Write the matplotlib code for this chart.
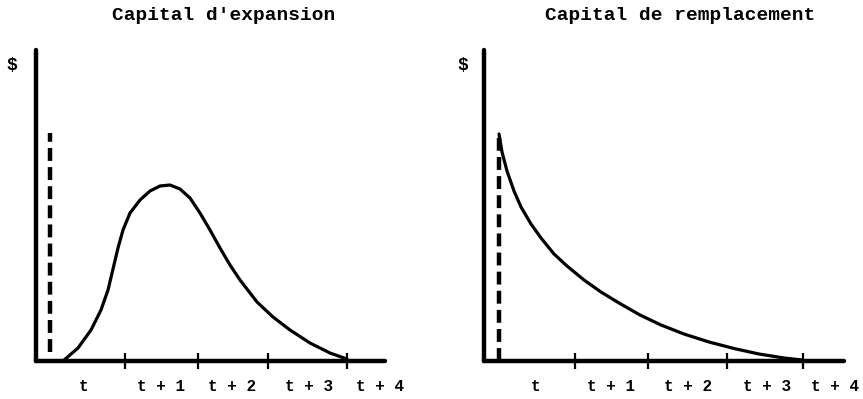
import numpy as np
import matplotlib.pyplot as plt

# Capital d'expansion (left panel): hump-shaped curve
exp_x = [0.27, 0.42, 0.55, 0.65, 0.72, 0.77, 0.82, 0.87, 0.94, 1.04, 1.14, 1.24,
         1.34, 1.44, 1.54, 1.64, 1.74, 1.84, 1.94, 2.04, 2.21, 2.37, 2.54, 2.74,
         2.94, 3.11]
exp_y = [0.00, 0.13, 0.31, 0.51, 0.71, 0.92, 1.13, 1.31, 1.48, 1.61, 1.70, 1.75,
         1.76, 1.72, 1.63, 1.48, 1.31, 1.13, 0.96, 0.81, 0.59, 0.44, 0.31, 0.18,
         0.08, 0.02]
exp_ticks = [0.89, 1.62, 2.32, 3.11]
exp_label_pos = [0.48, 1.25, 1.96, 2.73, 3.44]
exp_bar_x = 0.14
exp_bar_y = (0.09, 2.28)

# Capital de remplacement (right panel): decaying curve
rep_x = [0.15, 0.18, 0.23, 0.30, 0.37, 0.47, 0.57, 0.70, 0.83, 1.00, 1.17, 1.35,
         1.56, 1.77, 2.00, 2.25, 2.50, 2.75, 3.00, 3.18]
rep_y = [2.27, 2.09, 1.90, 1.70, 1.54, 1.37, 1.23, 1.07, 0.95, 0.81, 0.69, 0.58,
         0.46, 0.36, 0.27, 0.19, 0.125, 0.07, 0.03, 0.01]
rep_ticks = [0.91, 1.64, 2.43, 3.19]
rep_label_pos = [0.52, 1.27, 2.04, 2.83, 3.51]
rep_bar_x = 0.15
rep_bar_y = (0.0, 2.29)

tick_labels = ['t', 't + 1', 't + 2', 't + 3', 't + 4']
titles = ["Capital d'expansion", "Capital de remplacement"]

plt.rcParams['font.family'] = ['Liberation Mono', 'DejaVu Sans Mono']

W, H = 863, 399
fig = plt.figure(figsize=(W / 100, H / 100), dpi=100)


def panel(x0, x1, title, title_x, dollar_x, cx, cy, ticks, lab_pos, bar_x, bar_y):
    top, bottom = 50, 361
    ax = fig.add_axes([x0 / W, (H - bottom) / H, (x1 - x0) / W, (bottom - top) / H])
    ax.set_xlim(0, (x1 - x0) / 100)
    ax.set_ylim(0, (bottom - top) / 100)
    for s in ['top', 'right']:
        ax.spines[s].set_visible(False)
    for s in ['left', 'bottom']:
        ax.spines[s].set_linewidth(3.2)
        ax.spines[s].set_capstyle('round')
    ax.set_yticks([])
    ax.set_xticks(ticks)
    ax.set_xticklabels([])
    ax.tick_params(axis='x', which='major', direction='inout', length=11, width=1.6)
    ax.set_xticks(lab_pos, minor=True)
    ax.set_xticklabels(tick_labels, minor=True, fontsize=11.5, fontweight='bold')
    ax.tick_params(axis='x', which='minor', length=0, pad=13)
    ax.set_facecolor('none')

    ax.plot(cx, cy, color='black', lw=2.3, clip_on=False,
            solid_capstyle='round', solid_joinstyle='round')
    ax.plot([bar_x, bar_x], bar_y, color='black', lw=3.2, dashes=(2.9, 1.4),
            clip_on=False, dash_capstyle='butt')

    ax.text(title_x, 3.45, title, ha='center', va='center', fontsize=14,
            fontweight='bold', clip_on=False)
    ax.text(dollar_x, 2.96, '$', ha='center', va='center', fontsize=13,
            fontweight='bold', clip_on=False)
    return ax


panel(36, 385, titles[0], 1.88, -0.24, exp_x, exp_y, exp_ticks, exp_label_pos,
      exp_bar_x, exp_bar_y)
panel(484, 844, titles[1], 1.96, -0.21, rep_x, rep_y, rep_ticks, rep_label_pos,
      rep_bar_x, rep_bar_y)

fig.savefig('out.png', dpi=100, facecolor='white')
